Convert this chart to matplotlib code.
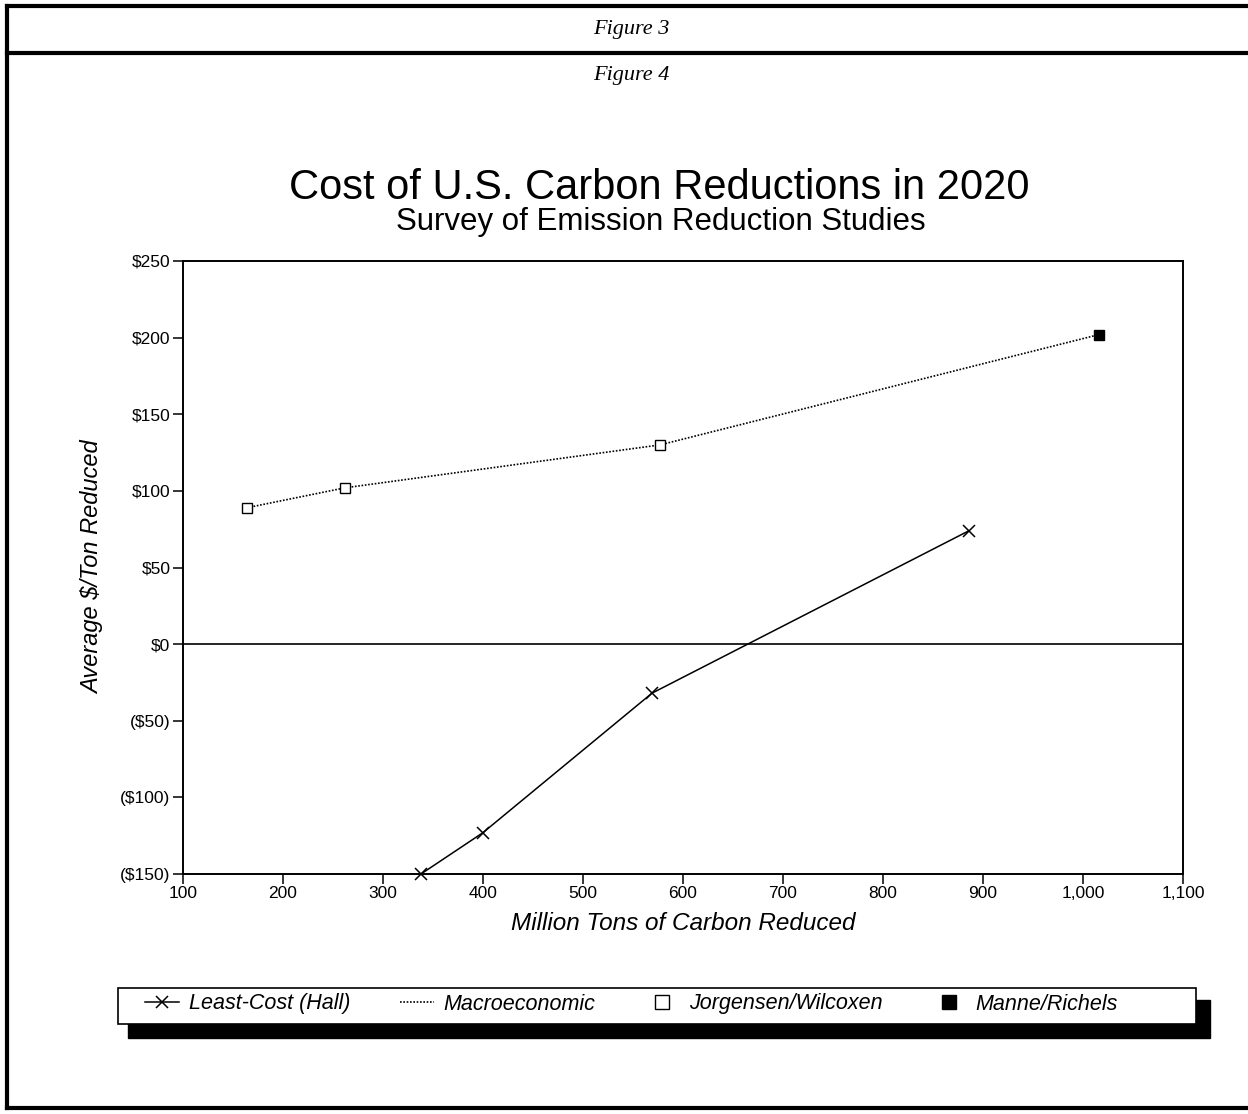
import numpy as np
import matplotlib
matplotlib.use("Agg")
import matplotlib.pyplot as plt
from matplotlib.lines import Line2D
from matplotlib.patches import Rectangle
from matplotlib.ticker import FuncFormatter

plt.rcParams['font.family'] = ['Liberation Sans', 'DejaVu Sans']

# cout moyen par tonne selon les etudes (million de tonnes, $/tonne)
hall_x = [338, 400, 569, 886]
hall_y = [-150, -123, -32, 74]

macro_x = [164, 262, 577, 1016]
macro_y = [89, 102, 130, 202]

jw_x = macro_x[:3]
jw_y = macro_y[:3]
mr_x = macro_x[3:]
mr_y = macro_y[3:]

xticks = np.arange(100, 1101, 100)
yticks = np.arange(-150, 251, 50)

noms = ["Least-Cost (Hall)", "Macroeconomic", "Jorgensen/Wilcoxen", "Manne/Richels"]


def dollars(v, pos):
    if v < 0:
        return "(${:,.0f})".format(-v)
    return "${:,.0f}".format(v)


W, H = 1248, 1114
fig = plt.figure(figsize=(W / 100, H / 100), dpi=100)

# cadre de la page
for y in [1 - 6 / H, 1 - 53 / H, 1 - 1108 / H]:
    fig.add_artist(Line2D([7 / W, 1], [y, y], color="black", lw=3))
fig.add_artist(Line2D([7 / W, 7 / W], [1 - 6 / H, 1 - 1108 / H], color="black", lw=3))

fig.text(631 / W, 1 - 34 / H, "Figure 3", family="Liberation Serif", style="italic",
         fontsize=16, ha="center", va="baseline")
fig.text(631 / W, 1 - 80 / H, "Figure 4", family="Liberation Serif", style="italic",
         fontsize=16, ha="center", va="baseline")

fig.text(659 / W, 1 - 199 / H, "Cost of U.S. Carbon Reductions in 2020",
         fontsize=30, ha="center", va="baseline")
fig.text(661 / W, 1 - 230 / H, "Survey of Emission Reduction Studies",
         fontsize=22.5, ha="center", va="baseline")

ax = fig.add_axes([183 / W, 1 - 874 / H, 1000 / W, 613 / H])

ax.axhline(0, color="black", lw=1.2, zorder=1)

ax.plot(hall_x, hall_y, color="black", lw=1.1, marker="x", ms=8, mew=1.1,
        clip_on=False, zorder=3)
ax.plot(macro_x, macro_y, color="black", lw=1.2, ls=(0, (1, 1)), zorder=2)
ax.plot(jw_x, jw_y, ls="none", marker="s", ms=7, mfc="white", mec="black", mew=1.0, zorder=4)
ax.plot(mr_x, mr_y, ls="none", marker="s", ms=7, mfc="black", mec="black", zorder=4)

ax.set_xlim(100, 1100)
ax.set_ylim(-150, 250)
ax.set_xticks(xticks)
ax.set_yticks(yticks)
ax.xaxis.set_major_formatter(FuncFormatter(lambda v, p: "{:,.0f}".format(v)))
ax.yaxis.set_major_formatter(FuncFormatter(dollars))
ax.tick_params(direction="out", length=7, width=1.1, labelsize=12.5, pad=2)

for s in ax.spines.values():
    s.set_linewidth(1.4)

ax.set_xlabel("Million Tons of Carbon Reduced", fontsize=17.5, style="italic")
ax.set_ylabel("Average $/Ton Reduced", fontsize=17, style="italic")
ax.xaxis.set_label_coords(0.5, -0.062)
ax.yaxis.set_label_coords(-0.079, 0.5)

# legende : cadre blanc avec ombre noire, puis les entrees
fig.add_artist(Rectangle((128 / W, 1 - 1038 / H), 1082 / W, 38 / H,
                         transform=fig.transFigure, color="black", zorder=1))
fig.add_artist(Rectangle((118 / W, 1 - 1024 / H), 1078 / W, 36 / H,
                         transform=fig.transFigure, facecolor="white",
                         edgecolor="black", lw=1.2, zorder=2))
poignees = [
    Line2D([], [], color="black", lw=1.1, marker="x", ms=9, mew=1.1),
    Line2D([], [], color="black", lw=1.2, ls=(0, (1, 1))),
    Line2D([], [], ls="none", marker="s", ms=10, mfc="white", mec="black", mew=1.0),
    Line2D([], [], ls="none", marker="s", ms=10, mfc="black", mec="black"),
]
leg = fig.legend(poignees, noms, ncol=4, loc="center left",
                 bbox_to_anchor=(145 / W, 1 - 1004 / H), frameon=False,
                 prop={"size": 15.5, "style": "italic"}, handlelength=1.6,
                 borderpad=0, borderaxespad=0, handletextpad=0.45,
                 columnspacing=2.28)
leg.set_zorder(3)

plt.savefig("out.png", dpi=100)
